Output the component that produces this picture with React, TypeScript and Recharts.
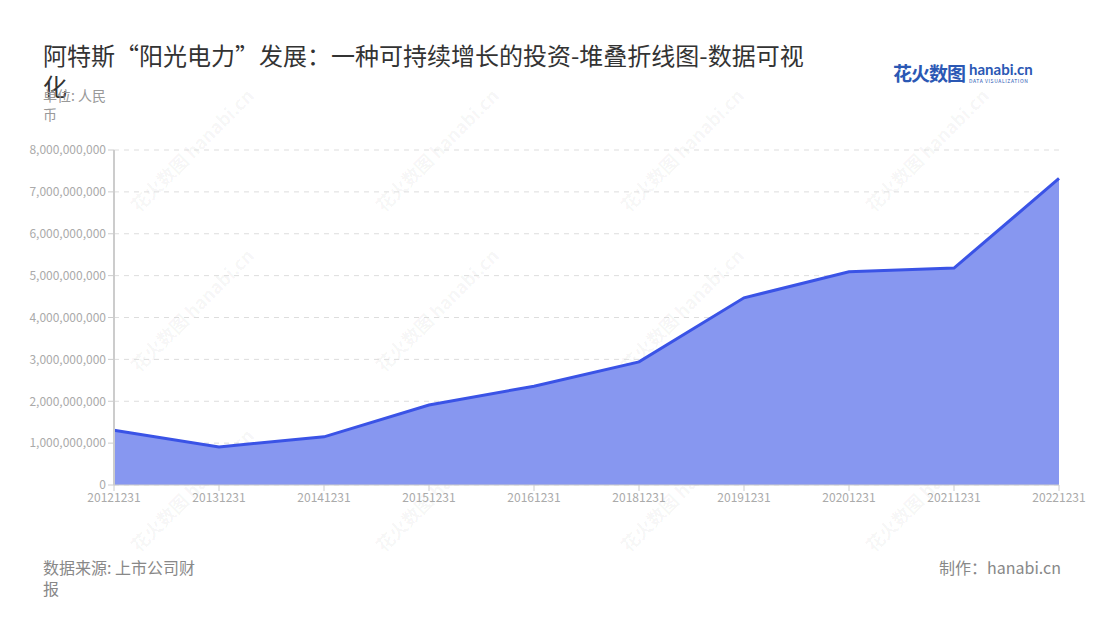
import { AreaChart, Area, XAxis, YAxis, CartesianGrid } from 'recharts';

// ─── Data ───────────────────────────────────────────────────
const periods = ['20121231', '20131231', '20141231', '20151231', '20161231', '20181231', '20191231', '20201231', '20211231', '20221231'];
const investment = [1310000000, 910000000, 1150000000, 1910000000, 2360000000, 2940000000, 4470000000, 5090000000, 5180000000, 7320000000];
const yTicks = [0, 1000000000, 2000000000, 3000000000, 4000000000, 5000000000, 6000000000, 7000000000, 8000000000];

const data = periods.map((p, i) => ({ period: p, value: investment[i] }));

const font = '"Noto Sans CJK SC", "Noto Sans", sans-serif';
const fmt = (v: number) => v.toLocaleString('en-US');

// 水印位置
const marks = [
  [170, 150], [415, 150], [660, 150], [905, 150],
  [170, 310], [415, 310], [660, 310], [905, 310],
  [170, 490], [415, 490], [660, 490], [905, 490],
];

export default function App() {
  return (
    <div style={{ position: 'relative', width: 1100, height: 620, margin: -8, background: '#fff', fontFamily: font, overflow: 'hidden' }}>
      <div style={{ position: 'absolute', left: 43, top: 39, width: 775, fontSize: 24, lineHeight: '31px', color: '#333' }}>
        阿特斯“阳光电力”发展：一种可持续增长的投资-堆叠折线图-数据可视化
      </div>
      <div style={{ position: 'absolute', left: 43, top: 86, width: 66, fontSize: 14, lineHeight: '19px', color: '#999' }}>
        单位: 人民币
      </div>

      {/* logo */}
      <div style={{ position: 'absolute', left: 893, top: 59, display: 'flex', alignItems: 'center' }}>
        <span style={{ fontSize: 19, fontWeight: 700, color: '#2b58b4', letterSpacing: -1 }}>花火数图</span>
        <span style={{ marginLeft: 4, display: 'flex', flexDirection: 'column', lineHeight: 1 }}>
          <span style={{ fontSize: 15, fontWeight: 700, color: '#2b58b4', fontFamily: 'Lato, sans-serif' }}>hanabi.cn</span>
          <span style={{ fontSize: 5, color: '#2b58b4', letterSpacing: 0.6, marginTop: 1 }}>DATA VISUALIZATION</span>
        </span>
      </div>

      {marks.map(([x, y], i) => (
        <div key={i} style={{
          position: 'absolute', left: x - 60, top: y - 12, width: 160, transform: 'rotate(-45deg)',
          fontSize: 18, fontWeight: 700, color: 'rgba(0,0,0,0.045)', whiteSpace: 'nowrap',
        }}>
          花火数图 hanabi.cn
        </div>
      ))}

      <div style={{ position: 'absolute', left: 0, top: 0 }}>
        <AreaChart width={1100} height={620} data={data} margin={{ top: 150, right: 41, bottom: 105, left: 0 }}>
          <CartesianGrid vertical={false} stroke="#ddd" strokeDasharray="5 5" />
          <XAxis
            dataKey="period"
            height={30}
            tick={{ fontSize: 12, fill: '#aaa', fontFamily: font }}
            tickLine={{ stroke: '#ccc' }}
            axisLine={{ stroke: '#ccc' }}
            interval={0}
          />
          <YAxis
            width={114}
            domain={[0, 8000000000]}
            ticks={yTicks}
            tickFormatter={fmt}
            tick={{ fontSize: 12, fill: '#aaa', fontFamily: font }}
            tickLine={{ stroke: '#ccc' }}
            axisLine={{ stroke: '#ccc', strokeWidth: 2 }}
          />
          <Area
            type="linear"
            dataKey="value"
            stroke="#3a53e6"
            strokeWidth={3}
            fill="#8797f0"
            fillOpacity={1}
            dot={false}
            isAnimationActive={false}
          />
        </AreaChart>
      </div>

      <div style={{ position: 'absolute', left: 43, top: 557, width: 158, fontSize: 16, lineHeight: '21px', color: '#888' }}>
        数据来源: 上市公司财报
      </div>
      <div style={{ position: 'absolute', right: 39, top: 557, fontSize: 16, lineHeight: '21px', color: '#888' }}>
        制作：hanabi.cn
      </div>
    </div>
  );
}
